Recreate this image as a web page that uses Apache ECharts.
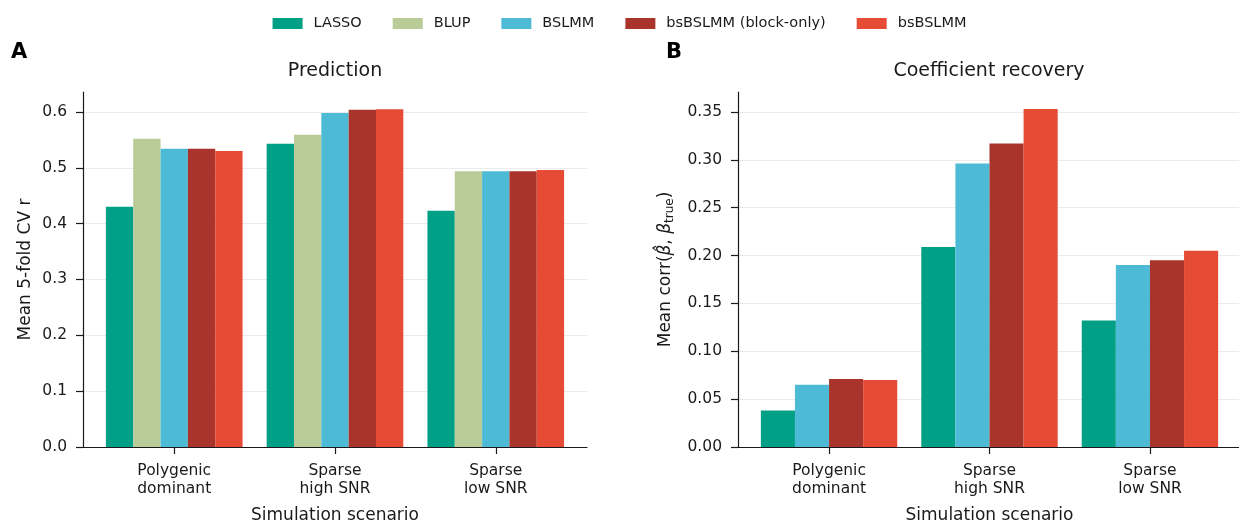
<!DOCTYPE html>
<html>
<head>
<meta charset="utf-8">
<script src="https://cdn.jsdelivr.net/npm/echarts@6/dist/echarts.min.js"></script>
<style>
  html, body { margin: 0; padding: 0; background: #fff; }
  #chart { width: 1239px; height: 525px; }
</style>
</head>
<body>
<div id="chart"></div>
<script>
// scenarios (x categories)
const scenarios = ['Polygenic\ndominant', 'Sparse\nhigh SNR', 'Sparse\nlow SNR'];

// panel A: mean 5-fold CV r
const predLasso = [0.430, 0.543, 0.423];
const predBlup = [0.552, 0.559, 0.494];
const predBslmm = [0.534, 0.598, 0.494];
const predBlock = [0.534, 0.604, 0.494];
const predBs = [0.530, 0.605, 0.496];

// panel B: coefficient recovery (no BLUP)
const coefLasso = [0.038, 0.209, 0.132];
const coefBslmm = [0.065, 0.296, 0.190];
const coefBlock = [0.071, 0.317, 0.195];
const coefBs = [0.070, 0.353, 0.205];

const yTicksA = [0, 0.1, 0.2, 0.3, 0.4, 0.5, 0.6];
const yTicksB = [0, 0.05, 0.1, 0.15, 0.2, 0.25, 0.3, 0.35];

const colors = {
  'LASSO': '#00a087',
  'BLUP': '#b9cb97',
  'BSLMM': '#4dbbd5',
  'bsBSLMM (block-only)': '#a8342b',
  'bsBSLMM': '#e64b35'
};

const font = 'DejaVu Sans';
const ink = '#1a1a1a';

function barSeries(name, vals, idx) {
  return {
    type: 'bar',
    name: name,
    xAxisIndex: idx,
    yAxisIndex: idx,
    data: vals.map((v, i) => [i, v]),
    barGap: '0%',
    barCategoryGap: '15%',
    itemStyle: { color: colors[name] },
    emphasis: { disabled: true }
  };
}

function xAxis(idx) {
  return {
    type: 'value',
    gridIndex: idx,
    min: -0.5675,
    max: 2.5675,
    name: 'Simulation scenario',
    nameLocation: 'middle',
    nameGap: 60,
    nameTextStyle: { fontFamily: font, fontSize: 17, color: ink },
    axisLine: { show: true, onZero: false, lineStyle: { color: ink, width: 1.2 } },
    axisTick: { show: true, length: 7, customValues: [0, 1, 2], lineStyle: { color: ink, width: 1.2 } },
    axisLabel: {
      customValues: [0, 1, 2],
      formatter: (v) => scenarios[Math.round(v)],
      fontFamily: font, fontSize: 15.5, color: ink,
      lineHeight: 18, margin: 15
    },
    splitLine: { show: false }
  };
}

function yAxis(idx, max, ticks, digits, name, gap) {
  return {
    type: 'value',
    gridIndex: idx,
    min: 0,
    max: max,
    name: name,
    nameLocation: 'middle',
    nameGap: gap,
    nameRotate: 90,
    nameTextStyle: {
      fontFamily: font, fontSize: 17, color: ink,
      rich: {
        s: { fontFamily: font, fontSize: 12, color: ink, padding: [8, 0, 0, 0] },
        b: { fontFamily: font, fontSize: 17, color: ink, fontStyle: 'italic' }
      }
    },
    axisLine: { show: true, onZero: false, lineStyle: { color: ink, width: 1.2 } },
    axisTick: { show: true, length: 7, customValues: ticks, lineStyle: { color: ink, width: 1.2 } },
    axisLabel: {
      customValues: ticks,
      formatter: (v) => v.toFixed(digits),
      fontFamily: font, fontSize: 15.5, color: ink, margin: 16
    },
    splitLine: { show: true, lineStyle: { color: '#ebebeb', width: 1 } }
  };
}

const chart = echarts.init(document.getElementById('chart'), null, { renderer: 'canvas' });
chart.setOption({
  animation: false,
  backgroundColor: '#fff',
  title: [
    { text: 'Prediction', left: 330, top: 57, textAlign: 'center',
      textStyle: { fontFamily: font, fontSize: 19, fontWeight: 'normal', color: ink } },
    { text: 'Coefficient recovery', left: 984, top: 57, textAlign: 'center',
      textStyle: { fontFamily: font, fontSize: 19, fontWeight: 'normal', color: ink } },
    { text: 'A', left: 6, top: 37,
      textStyle: { fontFamily: font, fontSize: 21, fontWeight: 'bold', color: '#000' } },
    { text: 'B', left: 661, top: 37,
      textStyle: { fontFamily: font, fontSize: 21, fontWeight: 'bold', color: '#000' } }
  ],
  legend: {
    top: 11,
    left: 'center',
    icon: 'rect',
    itemWidth: 30,
    itemHeight: 11,
    itemGap: 31,
    selectedMode: false,
    data: Object.keys(colors),
    textStyle: { fontFamily: font, fontSize: 14.5, color: ink, padding: [0, 0, 0, 6] }
  },
  grid: [
    { left: 83, right: 652, top: 92, bottom: 78, outerBoundsMode: 'none' },
    { left: 738, right: -2, top: 92, bottom: 78, outerBoundsMode: 'none' }
  ],
  xAxis: [xAxis(0), xAxis(1)],
  yAxis: [
    yAxis(0, 0.6357, yTicksA, 1, 'Mean 5-fold CV r', 49),
    yAxis(1, 0.3708, yTicksB, 2, 'Mean corr({b|β\u0302}, {b|β}{s|true})', 62)
  ],
  series: [
    barSeries('LASSO', predLasso, 0),
    barSeries('BLUP', predBlup, 0),
    barSeries('BSLMM', predBslmm, 0),
    barSeries('bsBSLMM (block-only)', predBlock, 0),
    barSeries('bsBSLMM', predBs, 0),
    barSeries('LASSO', coefLasso, 1),
    barSeries('BSLMM', coefBslmm, 1),
    barSeries('bsBSLMM (block-only)', coefBlock, 1),
    barSeries('bsBSLMM', coefBs, 1)
  ]
});
</script>
</body>
</html>
